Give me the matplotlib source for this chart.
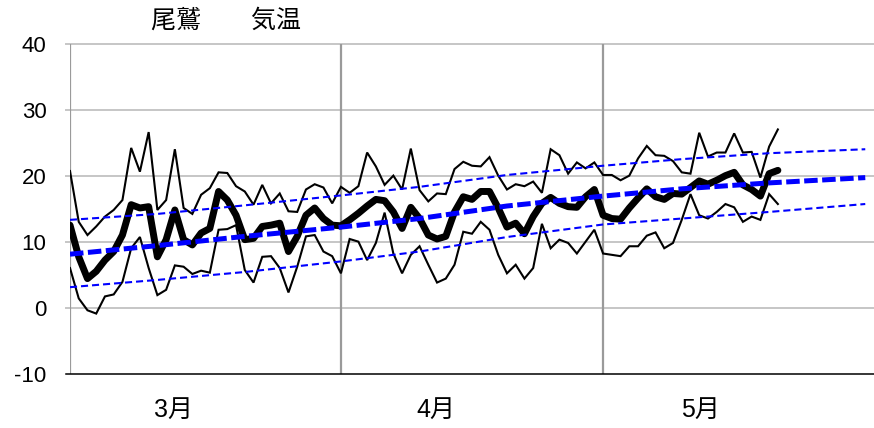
import matplotlib
matplotlib.use("Agg")
import matplotlib.pyplot as plt
import matplotlib.transforms as mtransforms
import numpy as np

# Daily temperatures at Owase, 1 March onward (day index 0 = Mar 1)
t_max = [20.8, 13.1, 11.1, 12.4, 13.9, 14.9, 16.4, 24.3, 20.7, 26.7,
         14.9, 16.4, 24.1, 15.2, 14.3, 17.2, 18.2, 20.6, 20.5, 18.5,
         17.7, 15.7, 18.7, 15.9, 17.4, 14.7, 14.6, 18.0, 18.8, 18.3,
         15.9, 18.4, 17.5, 18.5, 23.6, 21.5, 18.7, 20.1, 18.0, 24.2,
         17.9, 16.2, 17.4, 17.3, 21.1, 22.2, 21.6, 21.5, 22.9, 20.1,
         18.0, 18.8, 18.5, 19.2, 17.5, 24.1, 23.2, 20.4, 22.1, 21.2,
         22.1, 20.2, 20.2, 19.4, 20.1, 22.7, 24.6, 23.2, 23.1, 22.3,
         20.6, 20.4, 26.6, 23.0, 23.6, 23.6, 26.5, 23.6, 23.7, 19.8,
         24.5, 27.1]
t_mean = [12.6, 7.8, 4.5, 5.6, 7.3, 8.6, 11.1, 15.7, 15.2, 15.4,
          7.8, 10.4, 14.9, 10.4, 9.6, 11.4, 12.1, 17.7, 16.4, 14.1,
          10.4, 10.6, 12.4, 12.6, 12.9, 8.6, 10.9, 14.1, 15.2, 13.6,
          12.6, 12.5, 13.4, 14.4, 15.5, 16.5, 16.3, 14.6, 12.1, 15.3,
          13.6, 11.1, 10.5, 10.9, 14.6, 16.9, 16.5, 17.7, 17.7, 15.2,
          12.3, 12.9, 11.3, 13.9, 15.9, 16.8, 15.9, 15.4, 15.3, 16.9,
          18.0, 14.1, 13.6, 13.5, 15.2, 16.7, 18.1, 16.9, 16.5, 17.4,
          17.3, 18.3, 19.3, 18.8, 19.4, 20.1, 20.6, 18.7, 18.0, 17.0,
          20.4, 20.9]
t_min = [6.1, 1.5, -0.3, -0.8, 1.8, 2.1, 4.0, 9.1, 10.8, 6.1,
         2.0, 2.8, 6.5, 6.3, 5.2, 5.7, 5.4, 11.9, 12.0, 12.6,
         5.8, 3.9, 7.8, 7.9, 6.1, 2.4, 6.3, 10.9, 11.1, 8.6,
         7.9, 5.3, 10.5, 10.1, 7.3, 9.9, 14.5, 8.3, 5.3, 8.1,
         9.4, 6.6, 3.9, 4.5, 6.6, 11.6, 11.3, 13.1, 11.9, 8.1,
         5.3, 6.6, 4.5, 6.1, 12.8, 9.1, 10.4, 9.9, 8.3, 10.1,
         11.9, 8.3, 8.1, 7.9, 9.4, 9.4, 11.0, 11.5, 9.1, 9.9,
         13.4, 17.3, 14.1, 13.6, 14.6, 15.8, 15.3, 13.1, 13.9, 13.4,
         17.3, 15.8]

# Climatological normals, sampled at these day indices
normal_days = [0, 10, 20, 31, 40, 50, 61, 70, 80, 91]
normal_max = [13.4, 14.3, 15.6, 17.1, 18.4, 20.2, 21.6, 22.6, 23.5, 24.1]
normal_mean = [8.2, 9.5, 10.9, 12.3, 13.6, 15.5, 17.0, 18.1, 19.0, 19.8]
normal_min = [3.2, 4.3, 5.5, 7.1, 8.6, 10.8, 12.7, 13.6, 14.6, 15.8]

month_starts = [0, 31, 61]
month_labels = ["3月", "4月", "5月"]
month_label_pos = [11.9, 41.9, 72.2]
y_ticks = [-10, 0, 10, 20, 30, 40]

W, H = 874, 428
fig = plt.figure(figsize=(W / 100, H / 100), dpi=100)
left_px, right_px, top_px, bottom_px = 70, 874, 44.3, 374.3
ax = fig.add_axes([left_px / W, 1 - bottom_px / H,
                   (right_px - left_px) / W, (bottom_px - top_px) / H])
ax.set_xlim(0, 92)
ax.set_ylim(-10, 40)

for s in ax.spines.values():
    s.set_visible(False)

tick_ext = -4 / (right_px - left_px)
for y in y_ticks[1:]:
    ax.axhline(y, xmin=tick_ext, xmax=1, color="#c6c6c6", lw=1.4,
               clip_on=False, zorder=1)
ax.axhline(-10, xmin=tick_ext, xmax=1, color="black", lw=1.1,
           clip_on=False, zorder=2)
for m in month_starts:
    ax.axvline(m, color="#9a9a9a", lw=1.6, zorder=1)

days = np.arange(len(t_max))
ax.plot(days, t_max, color="black", lw=1.5, solid_joinstyle="miter", zorder=3)
ax.plot(days, t_min, color="black", lw=1.5, solid_joinstyle="miter", zorder=3)
ax.plot(days, t_mean, color="black", lw=5.0, solid_joinstyle="round",
        solid_capstyle="round", zorder=4)

ax.plot(normal_days, normal_max, color="#0000ff", lw=1.5,
        dashes=(3.4, 1.9), zorder=5)
ax.plot(normal_days, normal_min, color="#0000ff", lw=1.5,
        dashes=(3.4, 1.9), zorder=5)
ax.plot(normal_days, normal_mean, color="#0000ff", lw=3.6,
        dashes=(2.7, 0.9), zorder=5)

ax.set_xticks([])
ax.set_yticks(y_ticks)
ax.set_yticklabels([str(v) for v in y_ticks], family="Liberation Sans",
                   fontsize=16)
ax.tick_params(axis="y", length=0, pad=17)

trans = mtransforms.blended_transform_factory(ax.transData, fig.transFigure)
for pos, lab in zip(month_label_pos, month_labels):
    ax.text(pos, 1 - 410 / H, lab, transform=trans, ha="center", va="center",
            fontsize=18, family=["Liberation Sans", "Noto Sans CJK JP"])

fig.text(151 / W, 1 - 21 / H, "尾鷲　　気温", ha="left", va="center",
         fontsize=18, family=["Noto Sans CJK JP", "DejaVu Sans"])

fig.savefig("out.png", dpi=100)
